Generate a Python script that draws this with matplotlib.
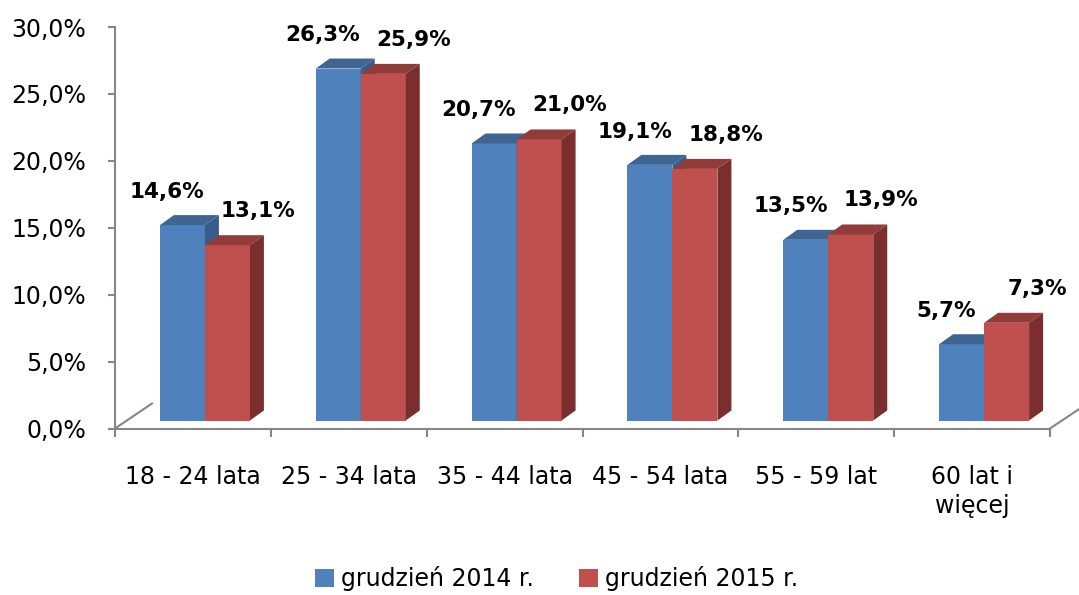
import matplotlib
matplotlib.use('Agg')
import matplotlib.pyplot as plt
from matplotlib.patches import Polygon, Patch
from matplotlib.lines import Line2D
from matplotlib.ticker import FuncFormatter
from matplotlib.transforms import ScaledTranslation

categories = ['18 - 24 lata', '25 - 34 lata', '35 - 44 lata', '45 - 54 lata',
              '55 - 59 lat', '60 lat i\nwięcej']
series_names = ['grudzień 2014 r.', 'grudzień 2015 r.']
val_2014 = [14.6, 26.3, 20.7, 19.1, 13.5, 5.7]
val_2015 = [13.1, 25.9, 21.0, 18.8, 13.9, 7.3]

W, H = 1079, 595
fig = plt.figure(figsize=(W / 100, H / 100), dpi=100)
ax_l, ax_b, ax_w, ax_h = 115 / W, 166.5 / H, 935 / W, 401.5 / H
ax = fig.add_axes([ax_l, ax_b, ax_w, ax_h])
ax.set_xlim(0, len(categories))
ax.set_ylim(0, 30)

grey = '#868686'
front = ['#4F81BD', '#C0504D']
top = ['#3F6593', '#923C3A']
side = ['#385D8A', '#7A2F2E']

# pixel scales (figure drawn at dpi 100)
px_x = ax_w * W / len(categories)
px_y = ax_h * H / 30.0
depth_x, depth_y = 14 / px_x, 10 / px_y
bar_w = 45 / px_x

# bars sit a bit back from the axis (3d floor)
shift = ax.transData + ScaledTranslation(12 / 100, 8 / 100, fig.dpi_scale_trans)

for i in range(len(categories)):
    c = i + 0.5
    for k, vals in enumerate([val_2014, val_2015]):
        h = vals[i]
        x0 = c - bar_w if k == 0 else c
        x1 = x0 + bar_w
        z = 2 + k
        ax.bar(x0, h, width=bar_w, align='edge', color=front[k], transform=shift,
               zorder=z, linewidth=0)
        ax.add_patch(Polygon([(x0, h), (x1, h), (x1 + depth_x, h + depth_y),
                              (x0 + depth_x, h + depth_y)], closed=True,
                             facecolor=top[k], edgecolor='none', transform=shift, zorder=z))
        ax.add_patch(Polygon([(x1, 0), (x1, h), (x1 + depth_x, h + depth_y),
                              (x1 + depth_x, depth_y)], closed=True,
                             facecolor=side[k], edgecolor='none', transform=shift, zorder=z))
        lbl = ('%.1f%%' % h).replace('.', ',')
        off = (-11, 24) if k == 0 else (22, 24.5)
        ax.annotate(lbl, (x0 + bar_w / 2, h), xycoords=shift, xytext=off,
                    textcoords='offset points', ha='center', va='center',
                    fontsize=15.5, fontweight='bold', zorder=5)

# axes styling
for s in ['top', 'right']:
    ax.spines[s].set_visible(False)
for s in ['left', 'bottom']:
    ax.spines[s].set_color(grey)
    ax.spines[s].set_linewidth(1.5)
ax.set_yticks(range(0, 31, 5))
ax.yaxis.set_major_formatter(FuncFormatter(lambda v, p: ('%.1f%%' % v).replace('.', ',')))
ax.tick_params(axis='y', length=5, width=1.5, color=grey, pad=16, labelsize=17)
ax.set_xticks([i + 0.5 for i in range(len(categories))])
ax.set_xticklabels(categories, fontsize=17, linespacing=1.3)
ax.set_xticks(range(len(categories) + 1), minor=True)
ax.tick_params(axis='x', which='major', length=0, pad=26)
ax.tick_params(axis='x', which='minor', length=6, width=1.5, color=grey)

# floor edges of the 3d box
bx0, by0 = ax_l * W, ax_b * H
bx1 = bx0 + ax_w * W
for (sx, dx, dy) in [(bx0, 37, 25), (bx1, 45, 30)]:
    fig.add_artist(Line2D([sx / W, (sx + dx) / W], [by0 / H, (by0 + dy) / H],
                          transform=fig.transFigure, color=grey, linewidth=1.5))

handles = [Patch(facecolor=front[0]), Patch(facecolor=front[1])]
fig.legend(handles, series_names, loc='center', bbox_to_anchor=(0.516, 0.028),
           ncol=2, frameon=False, fontsize=17, handlelength=0.8, handleheight=0.8,
           handletextpad=0.3, columnspacing=1.9)

fig.savefig('out.png', dpi=100)
